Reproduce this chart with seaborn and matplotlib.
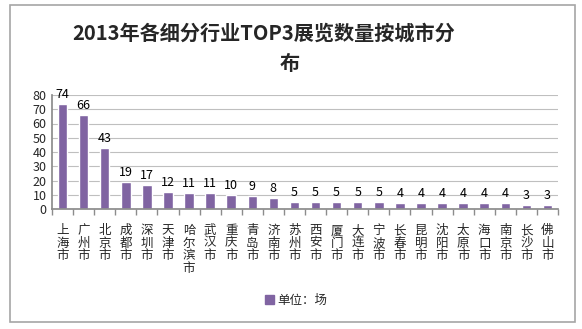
import matplotlib
matplotlib.use("Agg")
import matplotlib.pyplot as plt
import seaborn as sns
import pandas as pd
from matplotlib.patches import Rectangle, Patch

cities = ["上海市", "广州市", "北京市", "成都市", "深圳市", "天津市", "哈尔滨市", "武汉市",
          "重庆市", "青岛市", "济南市", "苏州市", "西安市", "厦门市", "大连市", "宁波市",
          "长春市", "昆明市", "沈阳市", "太原市", "海口市", "南京市", "长沙市", "佛山市"]
values = [74, 66, 43, 19, 17, 12, 11, 11, 10, 9, 8, 5, 5, 5, 5, 5, 4, 4, 4, 4, 4, 4, 3, 3]
yticks = [0, 10, 20, 30, 40, 50, 60, 70, 80]
title_lines = ["2013年各细分行业TOP3展览数量按城市分", "布"]
legend_label = "单位：场"

sns.set_theme(style="white")
plt.rcParams['font.family'] = ['Noto Sans CJK SC', 'DejaVu Sans']

df = pd.DataFrame({"city": cities, "value": values})
color = "#8064A2"

fig = plt.figure(figsize=(5.82, 3.29), dpi=100)
fig.patch.set_facecolor("white")
fig.patches.append(Rectangle((10/582, 1-322/329), 565/582, 317/329, transform=fig.transFigure,
                             fill=False, edgecolor="#A6A6A6", linewidth=1.2))
ax = fig.add_axes([52/582, 1-209/329, (558-52)/582, (209-95)/329])
sns.barplot(data=df, x="city", y="value", color=color, width=0.45, ax=ax, saturation=1)
ax.set_ylim(0, 80)
ax.set_xlim(-0.5, len(cities)-0.5)
ax.set_yticks(yticks)
ax.set_yticklabels([str(v) for v in yticks], fontsize=9)
ax.yaxis.grid(True, color="#BFBFBF", linewidth=0.8)
ax.set_axisbelow(True)
for s in ["top", "right"]:
    ax.spines[s].set_visible(False)
ax.spines["left"].set_color("#8C8C8C")
ax.spines["bottom"].set_color("#8C8C8C")
ax.set_xlabel("")
ax.set_ylabel("")
ax.tick_params(axis="y", length=0, pad=4)
ax.set_xticks(range(len(cities)))
ax.set_xticklabels(["\n".join(c) for c in cities], fontsize=9, linespacing=0.95, va="top")
ax.tick_params(axis="x", length=0, pad=11)
ax.set_xticks([i - 0.5 for i in range(len(cities)+1)], minor=True)
ax.tick_params(axis="x", which="minor", length=4, color="#8C8C8C", direction="out")
ax.xaxis.set_tick_params(which="minor", bottom=True)
for i, v in enumerate(values):
    ax.text(i, v + 2, str(v), ha="center", va="bottom", fontsize=9, color="black")

fig.text(264/582, 1-33/329, title_lines[0], ha="center", va="center", fontsize=14.5,
         fontweight="bold")
fig.text(290/582, 1-63/329, title_lines[1], ha="center", va="center", fontsize=14.5,
         fontweight="bold")
fig.legend(handles=[Patch(color=color)], labels=[legend_label], loc="center",
           bbox_to_anchor=(296/582, 1-300/329), frameon=False, fontsize=9,
           handlelength=0.7, handleheight=0.7, handletextpad=0.3)
fig.savefig("out.png", dpi=100)
